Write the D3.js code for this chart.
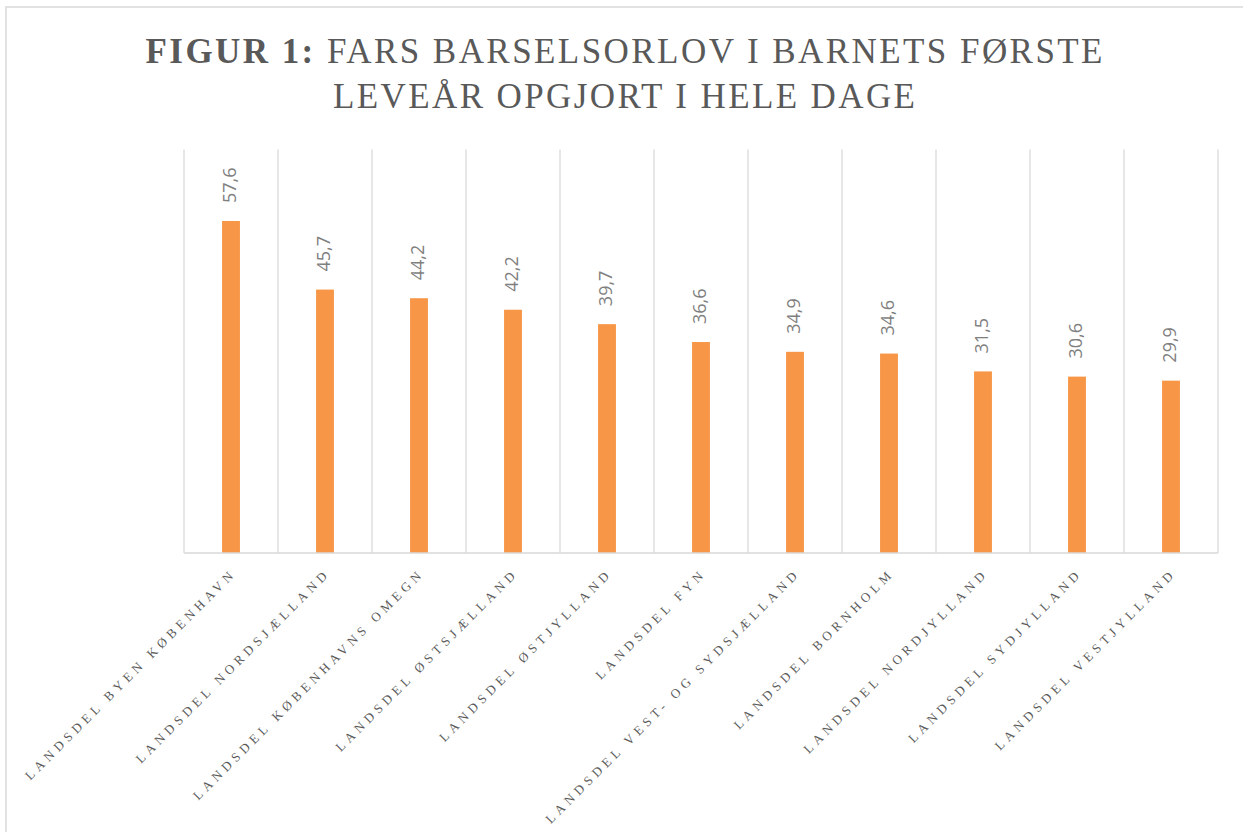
<!DOCTYPE html>
<html><head><meta charset="utf-8">
<script src="https://cdn.jsdelivr.net/npm/d3@7/dist/d3.min.js"></script>
<style>html,body{margin:0;padding:0;background:#fff;}</style>
</head><body>
<svg id="chart" width="1243" height="832"></svg>
<script>
const categories = ["LANDSDEL BYEN KØBENHAVN","LANDSDEL NORDSJÆLLAND","LANDSDEL KØBENHAVNS OMEGN","LANDSDEL ØSTSJÆLLAND","LANDSDEL ØSTJYLLAND","LANDSDEL FYN","LANDSDEL VEST- OG SYDSJÆLLAND","LANDSDEL BORNHOLM","LANDSDEL NORDJYLLAND","LANDSDEL SYDJYLLAND","LANDSDEL VESTJYLLAND"];
const values = [57.6,45.7,44.2,42.2,39.7,36.6,34.9,34.6,31.5,30.6,29.9];
const valueLabels = ["57,6","45,7","44,2","42,2","39,7","36,6","34,9","34,6","31,5","30,6","29,9"];
const yDomain = [0,70];
const titleBold = "FIGUR 1:";
const titleLine1 = " FARS BARSELSORLOV I BARNETS FØRSTE";
const titleLine2 = "LEVEÅR OPGJORT I HELE DAGE";

(function(){
const svg = d3.select("#chart");
const pLeft = 184, pRight = 1218, pTop = 149.5, pBottom = 553;

// outer frame
svg.append("rect").attr("x",6).attr("y",7).attr("width",1300).attr("height",900)
  .attr("fill","none").attr("stroke","#d9d9d9").attr("stroke-width",1.5);

const x = d3.scaleBand().domain(categories).range([pLeft,pRight]).paddingInner(0.81).paddingOuter(0.405);
const y = d3.scaleLinear().domain(yDomain).range([pBottom,pTop]);
const step = x.step();

// vertical gridlines at category boundaries
const bounds = d3.range(categories.length+1).map(i => pLeft + i*step);
svg.append("g").selectAll("line").data(bounds).join("line")
  .attr("x1",d=>d).attr("x2",d=>d).attr("y1",y(yDomain[1])).attr("y2",pBottom)
  .attr("stroke","#d9d9d9").attr("stroke-width",1.3);

// bars
svg.append("g").selectAll("rect").data(values).join("rect")
  .attr("x",(d,i)=>x(categories[i])).attr("width",x.bandwidth())
  .attr("y",d=>y(d)).attr("height",d=>pBottom-y(d)).attr("fill","#F79646");

// baseline
svg.append("line").attr("x1",pLeft).attr("x2",pRight).attr("y1",pBottom).attr("y2",pBottom)
  .attr("stroke","#d9d9d9").attr("stroke-width",1.5);

// value labels
svg.append("g").selectAll("text").data(values).join("text")
  .attr("transform",(d,i)=>`translate(${x(categories[i])+x.bandwidth()/2-1},${y(d)-18}) rotate(-90)`)
  .attr("dy","0.36em")
  .attr("font-family","'Open Sans', sans-serif").attr("font-size",18).attr("fill","#7f7f7f")
  .text((d,i)=>valueLabels[i]);

// category labels
const catFont = 13;
const catG = svg.append("g");
const probe = catG.append("text").attr("font-family","'Liberation Serif', serif").attr("font-size",catFont).text(categories[0]);
const L0 = probe.node().getComputedTextLength();
probe.remove();
const ls = (288 - L0) / (categories[0].length - 1);
catG.selectAll("text").data(categories).join("text")
  .attr("transform",d=>`translate(${x(d)+x.bandwidth()/2+3},${pBottom+24}) rotate(-45)`)
  .attr("text-anchor","end")
  .attr("dx", ls)
  .attr("font-family","'Liberation Serif', serif").attr("font-size",catFont)
  .attr("letter-spacing",ls).attr("fill","#595959")
  .text(d=>d);

// title
const tcx = 624;
function fitLine(sel, target){
  sel.attr("letter-spacing",0);
  const w0 = sel.node().getComputedTextLength();
  const n = sel.text().length;
  const s = (target - w0)/(n-1);
  sel.attr("letter-spacing",s);
  return s;
}
const t1 = svg.append("text").attr("y",63).attr("font-family","'Liberation Serif', serif")
  .attr("font-size",35).attr("fill","#595959");
t1.append("tspan").attr("font-weight","bold").text(titleBold);
t1.append("tspan").text(titleLine1);
fitLine(t1, 957);
t1.attr("x", tcx - 957/2);
const t2 = svg.append("text").attr("y",108).attr("font-family","'Liberation Serif', serif")
  .attr("font-size",35).attr("fill","#595959").text(titleLine2);
fitLine(t2, 582);
t2.attr("x", tcx - 582/2);
})();
</script>
</body></html>
